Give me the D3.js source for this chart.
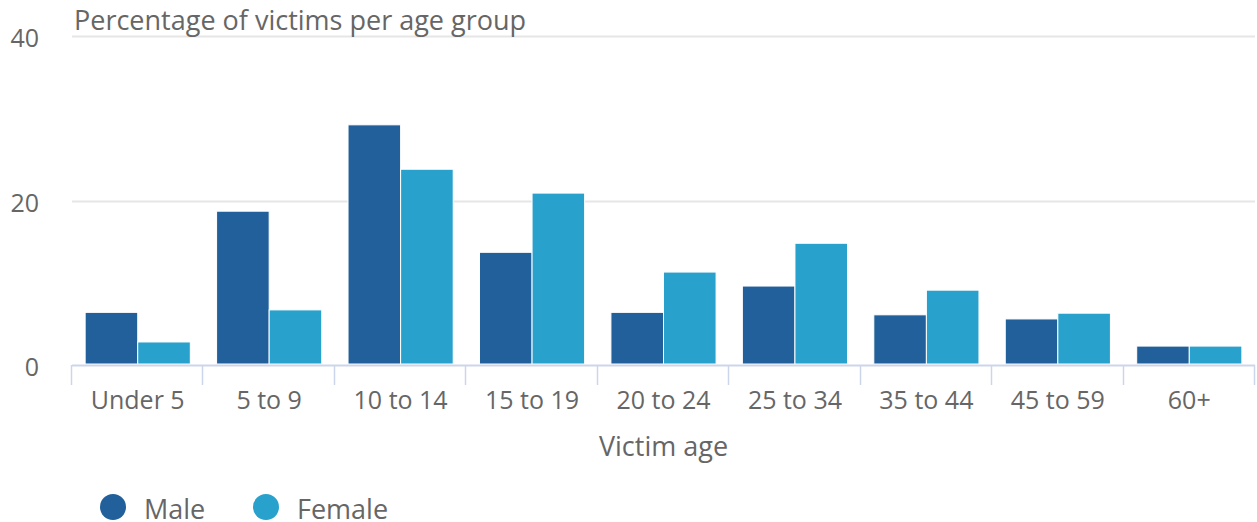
<!DOCTYPE html>
<html>
<head>
<meta charset="utf-8">
<script src="https://cdn.jsdelivr.net/npm/d3@7/dist/d3.min.js"></script>
<style>
  html, body { margin: 0; padding: 0; background: #fff; }
  svg { display: block; font-family: "Open Sans", "Noto Sans", sans-serif; }
  .lbl { fill: #666; }
</style>
</head>
<body>
<svg id="chart" width="1257" height="522"></svg>
<script>
// age groups and percentages
var ageGroups = ["Under 5", "5 to 9", "10 to 14", "15 to 19", "20 to 24", "25 to 34", "35 to 44", "45 to 59", "60+"];
var maleValues = [6.4, 18.7, 29.2, 13.7, 6.4, 9.6, 6.1, 5.6, 2.3];
var femaleValues = [2.8, 6.7, 23.8, 20.9, 11.3, 14.8, 9.1, 6.3, 2.3];
var seriesNames = ["Male", "Female"];
var yTicks = [0, 20, 40];

var colors = { Male: "#21609a", Female: "#28a1cc" };

var svg = d3.select("#chart");
var plotL = 72, plotR = 1255, plotT = 36, plotB = 365;

var x = d3.scaleBand().domain(ageGroups).range([plotL, plotR]);
// 10% group padding each side, bars touching
var inner = d3.scaleBand().domain(seriesNames).range([x.bandwidth() * 0.1, x.bandwidth() * 0.9]);
var y = d3.scaleLinear().domain([0, 40]).range([plotB, plotT]);

// grid
svg.append("g").selectAll("line").data(yTicks.filter(function (d) { return d > 0; })).join("line")
  .attr("x1", plotL).attr("x2", plotR)
  .attr("y1", function (d) { return Math.round(y(d)) + 0.5; })
  .attr("y2", function (d) { return Math.round(y(d)) + 0.5; })
  .attr("stroke", "#e6e6e6").attr("stroke-width", 2);

// y labels
svg.append("g").selectAll("text").data(yTicks).join("text")
  .attr("class", "lbl")
  .attr("x", 39).attr("y", function (d) { return y(d) + 11; })
  .attr("text-anchor", "end").attr("font-size", 25)
  .text(function (d) { return d; });

// bars
var rows = ageGroups.map(function (g, i) { return { group: g, Male: maleValues[i], Female: femaleValues[i] }; });
var gBars = svg.append("g").selectAll("g").data(rows).join("g")
  .attr("transform", function (d) { return "translate(" + x(d.group) + ",0)"; });
gBars.selectAll("rect").data(function (d) { return seriesNames.map(function (s) { return { s: s, v: d[s] }; }); }).join("rect")
  .attr("x", function (d) { return inner(d.s); })
  .attr("width", inner.bandwidth())
  .attr("y", function (d) { return y(d.v); })
  .attr("height", function (d) { return y(0) - y(d.v) - 1; })
  .attr("fill", function (d) { return colors[d.s]; })
  .attr("stroke", "#fff").attr("stroke-width", 1);

// x axis
var xa = svg.append("g");
xa.append("line").attr("x1", plotL).attr("x2", plotR).attr("y1", plotB + 0.5).attr("y2", plotB + 0.5)
  .attr("stroke", "#ccd6eb").attr("stroke-width", 2);
var tickPos = ageGroups.map(function (g) { return x(g); }).concat([x(ageGroups[ageGroups.length - 1]) + x.bandwidth()]);
xa.selectAll("line.tick").data(tickPos).join("line").attr("class", "tick")
  .attr("x1", function (d) { return Math.round(d) - 0.5; }).attr("x2", function (d) { return Math.round(d) - 0.5; })
  .attr("y1", plotB).attr("y2", plotB + 20)
  .attr("stroke", "#ccd6eb").attr("stroke-width", 1.5);
xa.selectAll("text").data(ageGroups).join("text")
  .attr("class", "lbl")
  .attr("x", function (d) { return x(d) + x.bandwidth() / 2; })
  .attr("y", 409).attr("text-anchor", "middle").attr("font-size", 25)
  .text(function (d) { return d; });

svg.append("text").attr("class", "lbl")
  .attr("x", (plotL + plotR) / 2).attr("y", 456).attr("text-anchor", "middle").attr("font-size", 27)
  .text("Victim age");

svg.append("text").attr("class", "lbl")
  .attr("x", 74).attr("y", 30).attr("font-size", 27)
  .text("Percentage of victims per age group");

// legend
var legX = [113, 266];
var leg = svg.append("g").selectAll("g").data(seriesNames).join("g")
  .attr("transform", function (d, i) { return "translate(" + legX[i] + ",507)"; });
leg.append("circle").attr("r", 13).attr("fill", function (d) { return colors[d]; });
leg.append("text").attr("class", "lbl").attr("x", 31).attr("y", 12).attr("font-size", 27)
  .text(function (d) { return d; });
</script>
</body>
</html>
